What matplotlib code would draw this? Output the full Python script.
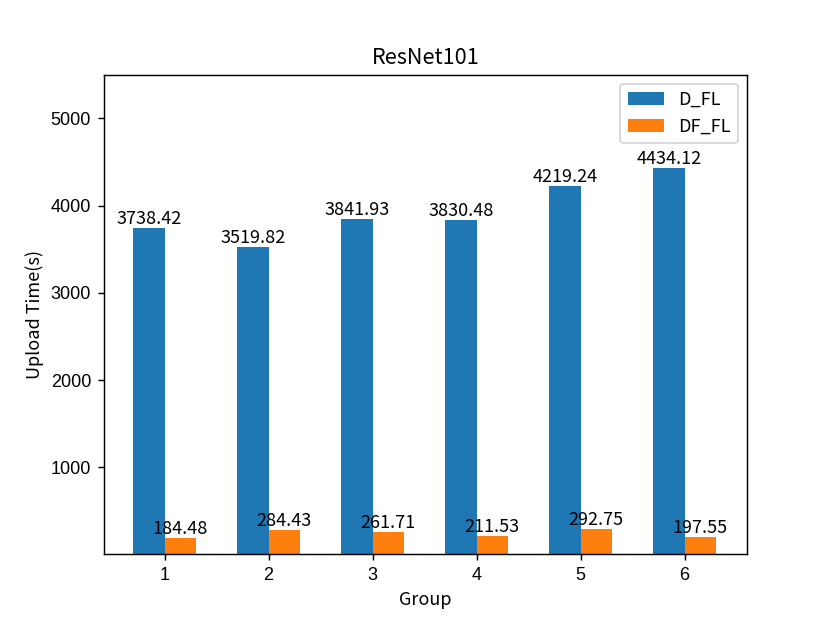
import numpy as np
import matplotlib.pyplot as plt

groups = [1, 2, 3, 4, 5, 6]
d_fl = [3738.42, 3519.82, 3841.93, 3830.48, 4219.24, 4434.12]
df_fl = [184.48, 284.43, 261.71, 211.53, 292.75, 197.55]

txt_font = ['Noto Sans CJK SC', 'DejaVu Sans']
plt.rcParams['font.family'] = ['Liberation Sans', 'DejaVu Sans']

fig, ax = plt.subplots(figsize=(830 / 130, 623 / 130), dpi=130)
x = np.array(groups)
width = 0.3
b1 = ax.bar(x - width / 2, d_fl, width, label='D_FL', color='#1f77b4')
b2 = ax.bar(x + width / 2, df_fl, width, label='DF_FL', color='#ff7f0e')

for bars, vals in ((b1, d_fl), (b2, df_fl)):
    for rect, v in zip(bars, vals):
        ax.text(rect.get_x() + rect.get_width() / 2, rect.get_height(), '%.2f' % v,
                ha='center', va='bottom', fontsize=10, family=txt_font)

ax.set_xticks(groups)
ax.set_yticks([1000, 2000, 3000, 4000, 5000])
ax.set_ylim(0, 5500)
ax.set_xlim(0.415, 6.6)
ax.set_title('ResNet101', family=txt_font)
ax.set_xlabel('Group', family=txt_font)
ax.set_ylabel('Upload Time(s)', family=txt_font)
ax.legend(prop={'family': txt_font})

plt.savefig('out.png')
